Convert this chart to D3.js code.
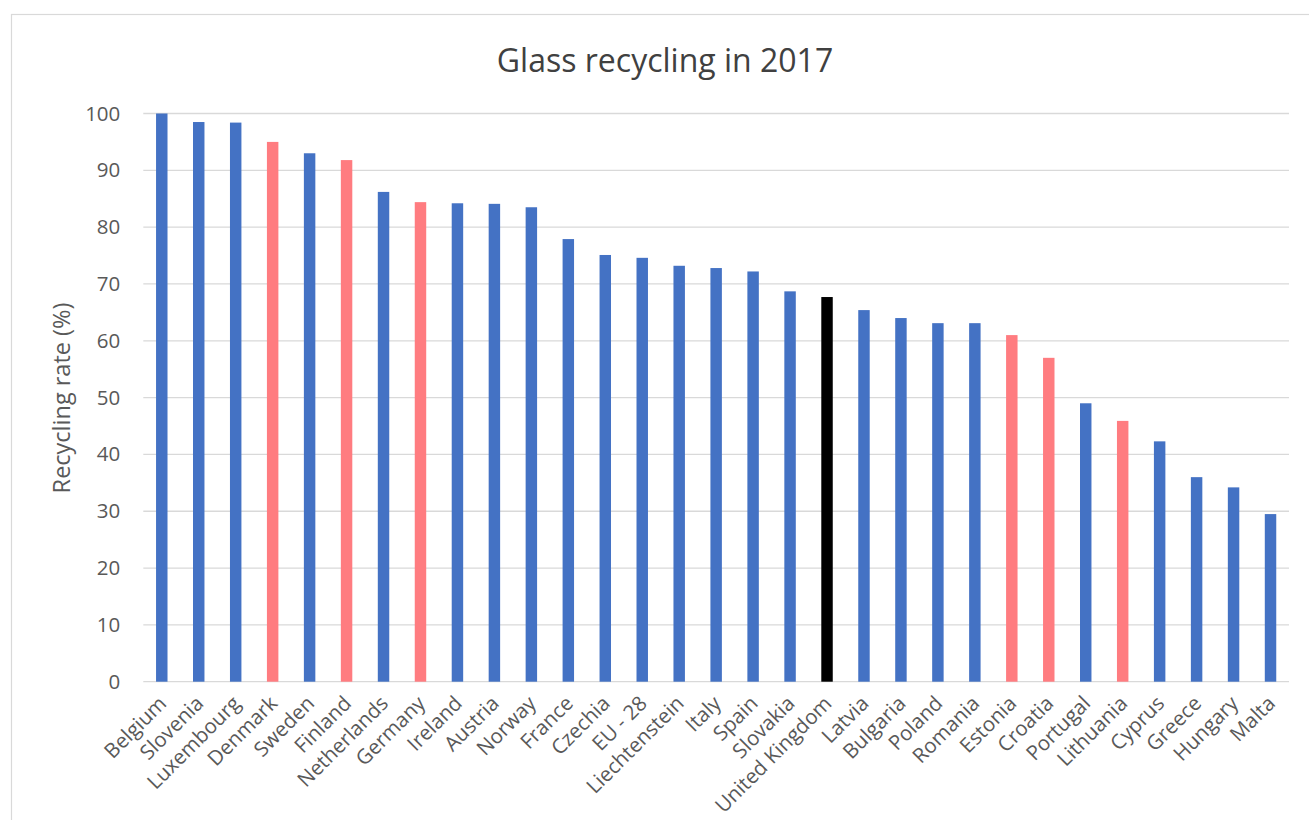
<!DOCTYPE html>
<html>
<head>
<meta charset="utf-8">
<script src="https://cdn.jsdelivr.net/npm/d3@7"></script>
<style>
  html, body { margin: 0; padding: 0; background: #ffffff; }
  svg { display: block; }
  text { font-family: "Open Sans", "Liberation Sans", sans-serif; fill: #595959; }
</style>
</head>
<body>
<svg id="chart" width="1309" height="820"></svg>
<script>
// Glass recycling rates by country, 2017 (%)
const countries = ["Belgium", "Slovenia", "Luxembourg", "Denmark", "Sweden", "Finland",
  "Netherlands", "Germany", "Ireland", "Austria", "Norway", "France", "Czechia", "EU - 28",
  "Liechtenstein", "Italy", "Spain", "Slovakia", "United Kingdom", "Latvia", "Bulgaria",
  "Poland", "Romania", "Estonia", "Croatia", "Portugal", "Lithuania", "Cyprus", "Greece",
  "Hungary", "Malta"];
const rates = [100.0, 98.5, 98.4, 95.0, 93.0, 91.8, 86.2, 84.4, 84.2, 84.1, 83.5, 77.9, 75.1,
  74.6, 73.2, 72.8, 72.2, 68.7, 67.7, 65.4, 64.0, 63.1, 63.1, 61.0, 57.0, 49.0, 45.9, 42.3,
  36.0, 34.2, 29.5];
// Bar group: "base" = default, "highlight" = marked countries, "uk" = United Kingdom
const groups = ["base", "base", "base", "highlight", "base", "highlight", "base", "highlight",
  "base", "base", "base", "base", "base", "base", "base", "base", "base", "base", "uk", "base",
  "base", "base", "base", "highlight", "highlight", "base", "highlight", "base", "base",
  "base", "base"];
const yTicks = [0, 10, 20, 30, 40, 50, 60, 70, 80, 90, 100];

const data = countries.map((c, i) => ({ country: c, rate: rates[i], group: groups[i] }));
const colour = d3.scaleOrdinal()
  .domain(["base", "highlight", "uk"])
  .range(["#4472C4", "#FF7C80", "#000000"]);

const svg = d3.select("#chart");

// Outer chart frame
svg.append("rect")
  .attr("x", 11.5).attr("y", 14.5)
  .attr("width", 1320).attr("height", 830)
  .attr("fill", "none").attr("stroke", "#D9D9D9").attr("stroke-width", 1.2);

const plot = { left: 143.3, right: 1289, top: 113.5, bottom: 681.7 };

const x = d3.scaleBand()
  .domain(countries)
  .range([plot.left, plot.right])
  .paddingInner(0.69)
  .paddingOuter(0.345);

const y = d3.scaleLinear()
  .domain([0, 100])
  .range([plot.bottom, plot.top]);

// Horizontal gridlines
svg.append("g")
  .selectAll("line")
  .data(yTicks)
  .join("line")
  .attr("x1", plot.left).attr("x2", plot.right)
  .attr("y1", d => y(d)).attr("y2", d => y(d))
  .attr("stroke", "#D9D9D9").attr("stroke-width", 1.3);

// Y axis labels
const yAxis = svg.append("g")
  .attr("transform", `translate(${plot.left - 23},0)`)
  .call(d3.axisLeft(y).tickValues(yTicks).tickSize(0).tickPadding(0));
yAxis.select(".domain").remove();
yAxis.selectAll("text")
  .attr("font-size", "20.5px")
  .attr("fill", "#595959")
  .style("font-family", "'Open Sans', sans-serif");

// Bars
svg.append("g")
  .selectAll("rect")
  .data(data)
  .join("rect")
  .attr("x", d => x(d.country))
  .attr("width", x.bandwidth())
  .attr("y", d => y(d.rate))
  .attr("height", d => y(0) - y(d.rate))
  .attr("fill", d => colour(d.group));

// Category labels, rotated
const xAxis = svg.append("g")
  .attr("transform", `translate(0,${plot.bottom})`)
  .call(d3.axisBottom(x).tickSize(0).tickPadding(0));
xAxis.select(".domain").remove();
xAxis.selectAll("text")
  .attr("font-size", "20.5px")
  .attr("fill", "#595959")
  .style("font-family", "'Open Sans', sans-serif")
  .attr("text-anchor", "end")
  .attr("dy", null)
  .attr("y", 0)
  .attr("transform", "translate(6,23) rotate(-45)");

// Y axis title
svg.append("text")
  .attr("transform", "translate(70,398) rotate(-90)")
  .attr("text-anchor", "middle")
  .attr("font-size", "23.5px")
  .text("Recycling rate (%)");

// Chart title
svg.append("text")
  .attr("x", 665).attr("y", 72)
  .attr("text-anchor", "middle")
  .attr("font-size", "32px")
  .attr("fill", "#404040")
  .style("fill", "#404040")
  .text("Glass recycling in 2017");
</script>
</body>
</html>
